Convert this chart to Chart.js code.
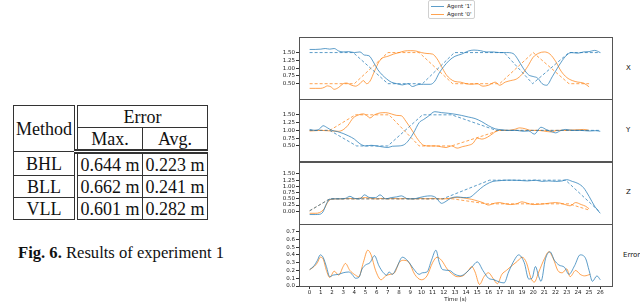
<!DOCTYPE html>
<html>
<head>
<meta charset="utf-8">
<script src="https://cdn.jsdelivr.net/npm/chart.js"></script>
<style>
    html, body { margin: 0; padding: 0; background: #fff; }
    #page { position: relative; width: 640px; height: 303px; overflow: hidden; }

    #results {
        position: absolute; left: 13px; top: 105px;
        border-collapse: collapse;
        font-family: "Liberation Serif", "Times New Roman", serif;
        font-size: 18px; color: #111;
    }
    #results th, #results td {
        border: 1px solid #333; padding: 0 1px; font-weight: normal;
        text-align: center; line-height: 20px; height: 21px; white-space: nowrap;
    }
    #results .m { border-right: 4px double #333; width: 58px; }
    #results .num { width: 62px; }
    #results tr.sub th { border-bottom: 5px double #333; }

    #caption {
        position: absolute; left: 18px; top: 243px;
        font-family: "Liberation Serif", "Times New Roman", serif;
        font-size: 16.6px; color: #111; white-space: nowrap;
    }

    .side {
        position: absolute; font-family: "DejaVu Sans", sans-serif;
        font-size: 7px; color: #111; line-height: 8px;
    }

    #legend {
        position: absolute; left: 428px; top: 0; width: 45px; height: 17px;
        border: 1px solid #d0d0d0; border-radius: 2px; background: #fff;
        font-family: "DejaVu Sans", sans-serif; font-size: 5.5px; color: #222;
    }
    #legend .item { position: absolute; left: 2px; height: 7px; line-height: 7px; white-space: nowrap; }
    #legend .swatch { position: absolute; left: 0; top: 3px; width: 13px; height: 1.5px; }
    #legend .text { position: absolute; left: 16px; top: 0; }

    #chartBox { position: absolute; left: 262px; top: 0; width: 378px; height: 303px; }
</style>
</head>
<body>
<div id="page">

    <table id="results">
        <tr><th class="m" rowspan="2">Method</th><th colspan="2">Error</th></tr>
        <tr class="sub"><th class="num">Max.</th><th class="num">Avg.</th></tr>
        <tr><td class="m">BHL</td><td>0.644 m</td><td>0.223 m</td></tr>
        <tr><td class="m">BLL</td><td>0.662 m</td><td>0.241 m</td></tr>
        <tr><td class="m">VLL</td><td>0.601 m</td><td>0.282 m</td></tr>
    </table>

    <div id="caption"><b>Fig. 6.</b> Results of experiment 1</div>

    <div class="side" style="left:626px; top:64px;">X</div>
    <div class="side" style="left:626px; top:126px;">Y</div>
    <div class="side" style="left:626px; top:188px;">Z</div>
    <div class="side" style="left:623px; top:251px;">Error</div>

    <div id="chartBox"><canvas id="experimentChart"></canvas></div>
    <div id="legend"></div>
</div>

<script>
/* ==========================================
   Data, [time (s), value]
========================================== */

const timeTicks = [0, 1, 2, 3, 4, 5, 6, 7, 8, 9, 10, 11, 12, 13, 14, 15, 16, 17, 18, 19, 20, 21, 22, 23, 24, 25, 26];
const posTicks = [0.5, 0.75, 1.0, 1.25, 1.5];
const zTicks = [0, 0.25, 0.5, 0.75, 1.0, 1.25, 1.5];
const errorTicks = [0, 0.1, 0.2, 0.3, 0.4, 0.5, 0.6, 0.7];

const xAgent1 = [[0,1.6],[0.5,1.6],[1,1.61],[1.4,1.63],[1.8,1.61],[2.2,1.63],[2.6,1.55],[3,1.52],[3.5,1.53],[4,1.5],[4.5,1.52],[4.9,1.42],[5.3,1.4],[5.7,1.2],[6.1,0.95],[6.5,0.78],[6.9,0.65],[7.3,0.55],[7.8,0.5],[8.3,0.46],[8.8,0.5],[9.2,0.41],[9.7,0.47],[10.2,0.48],[10.8,0.48],[11.2,0.58],[11.6,0.85],[12,1.05],[12.5,1.25],[13,1.38],[13.6,1.45],[14.2,1.55],[14.7,1.58],[15.3,1.56],[15.8,1.52],[16.4,1.52],[17,1.5],[17.6,1.5],[18.2,1.47],[18.6,1.3],[19.1,1.0],[19.6,0.78],[20,0.73],[20.4,0.68],[20.8,0.5],[21.2,0.45],[21.7,0.72],[22.3,1.08],[22.9,1.38],[23.4,1.5],[24,1.48],[24.5,1.52],[25,1.53],[25.5,1.57],[26,1.5]];
const xAgent1Ref = [[0,1.5],[3.9,1.5],[7,0.5],[10.1,0.5],[12.95,1.5],[17.4,1.5],[19.95,0.5],[23.2,1.5],[26,1.5]];
const xAgent0 = [[0,0.35],[0.5,0.35],[1,0.35],[1.3,0.38],[1.6,0.43],[1.9,0.4],[2.2,0.32],[2.6,0.38],[3,0.5],[3.3,0.52],[3.7,0.46],[4.1,0.42],[4.5,0.5],[4.8,0.6],[5.1,0.5],[5.4,0.58],[5.8,0.9],[6.2,1.2],[6.5,1.32],[7,1.38],[7.5,1.45],[8,1.5],[8.5,1.55],[9,1.56],[9.5,1.55],[10,1.5],[10.5,1.47],[11,1.45],[11.4,1.3],[11.8,1.05],[12.2,0.8],[12.6,0.65],[13,0.57],[13.5,0.55],[14,0.5],[14.5,0.48],[15,0.5],[15.5,0.42],[16,0.45],[16.6,0.55],[17,0.45],[17.5,0.55],[18,0.6],[18.5,0.65],[19,0.8],[19.5,1.05],[20,1.35],[20.5,1.48],[21,1.52],[21.5,1.45],[22,1.22],[22.5,0.9],[23,0.7],[23.5,0.6],[24,0.55],[24.5,0.52],[25,0.4]];
const xAgent0Ref = [[0,0.5],[4,0.5],[7,1.5],[9.8,1.5],[12.8,0.5],[17,0.5],[20,1.5],[23.2,0.5],[25,0.5]];

const yAgent1 = [[0,1.03],[0.5,1.0],[0.9,1.05],[1.2,1.15],[1.6,1.08],[2,1.0],[2.5,0.96],[3,0.9],[3.5,0.82],[4,0.72],[4.5,0.57],[5,0.5],[5.5,0.52],[6,0.5],[6.5,0.47],[7,0.45],[7.4,0.49],[8,0.5],[8.5,0.55],[8.9,0.7],[9.3,0.92],[9.8,1.25],[10.2,1.35],[10.6,1.45],[11.2,1.6],[11.8,1.57],[12.4,1.55],[13,1.52],[13.6,1.48],[14.2,1.43],[14.8,1.38],[15.4,1.28],[16,1.15],[16.6,1.05],[17.2,1.02],[17.8,1.0],[18.5,1.0],[19.1,0.97],[19.6,0.98],[20.1,0.88],[20.7,1.1],[21.2,1.02],[21.7,0.95],[22,0.92],[22.5,1.0],[22.9,1.03],[23.5,1.0],[24.2,1.0],[25,0.98],[25.6,0.99],[26,0.97]];
const yAgent1Ref = [[0,1.0],[1.8,1.0],[4.2,0.5],[7,0.5],[10.1,1.5],[12.7,1.5],[16.7,1.0],[26,1.0]];
const yAgent0 = [[0,0.98],[0.5,0.99],[1,1.0],[1.5,0.99],[2,0.98],[2.6,0.97],[3,1.02],[3.4,1.15],[3.9,1.4],[4.4,1.5],[4.8,1.53],[5.1,1.48],[5.4,1.4],[5.8,1.5],[6.3,1.56],[6.8,1.57],[7.3,1.53],[7.8,1.48],[8.2,1.47],[8.6,1.3],[9.2,0.98],[9.7,0.7],[10.2,0.52],[10.7,0.5],[11.3,0.5],[11.8,0.47],[12.2,0.45],[12.7,0.5],[13.2,0.43],[13.7,0.48],[14.2,0.52],[14.6,0.58],[15,0.75],[15.4,0.72],[15.9,0.78],[16.4,0.9],[16.8,1.0],[17.3,1.0],[17.8,1.0],[18.3,1.03],[18.8,1.08],[19.3,1.05],[19.8,1.0],[20.4,1.0],[20.9,0.98],[21.6,0.95],[22.2,1.0],[22.8,1.0],[23.4,1.01],[24,1.02],[24.5,1.03],[25,1.0]];
const yAgent0Ref = [[0,1.0],[1.8,1.0],[4.1,1.5],[7.1,1.5],[9.8,0.5],[12.7,0.5],[17,1.0],[25,1.0]];

const zAgent1 = [[0,-0.13],[0.5,-0.13],[0.9,-0.12],[1.2,-0.02],[1.5,0.3],[1.8,0.48],[2.2,0.5],[2.7,0.5],[3.2,0.52],[3.6,0.6],[4,0.52],[4.5,0.5],[4.9,0.66],[5.4,0.55],[5.9,0.55],[6.3,0.66],[6.8,0.5],[7.3,0.55],[7.8,0.58],[8.2,0.62],[8.8,0.5],[9.3,0.5],[9.8,0.55],[10.3,0.6],[10.8,0.62],[11.3,0.55],[11.8,0.32],[12.2,0.4],[12.6,0.52],[13.2,0.58],[13.8,0.55],[14.3,0.56],[14.8,0.72],[15.3,0.92],[15.8,1.08],[16.4,1.2],[17,1.23],[17.6,1.25],[18.2,1.25],[18.8,1.24],[19.5,1.22],[20.2,1.25],[20.8,1.2],[21.4,1.22],[22,1.2],[22.6,1.22],[23,1.27],[23.5,1.2],[24,1.12],[24.5,0.95],[25,0.6],[25.5,0.2],[26,-0.08]];
const zAgent1Ref = [[0,0.02],[1.8,0.5],[11.9,0.5],[16.1,1.25],[22.9,1.25],[25.9,0.0]];
const zAgent0 = [[0,-0.08],[0.5,-0.08],[0.9,-0.05],[1.3,0.1],[1.6,0.35],[1.9,0.48],[2.5,0.5],[3,0.5],[3.5,0.52],[4,0.5],[4.5,0.53],[5,0.55],[5.5,0.52],[6,0.5],[6.5,0.52],[7,0.5],[7.5,0.52],[8,0.5],[8.5,0.52],[9,0.5],[9.5,0.5],[10,0.52],[10.5,0.5],[11,0.52],[11.5,0.5],[12,0.5],[12.5,0.52],[13,0.55],[13.5,0.55],[14,0.52],[14.5,0.48],[15,0.42],[15.5,0.35],[16,0.25],[16.5,0.32],[17,0.35],[17.5,0.3],[18,0.27],[18.5,0.3],[19,0.38],[19.5,0.32],[20,0.27],[20.5,0.28],[21,0.3],[21.5,0.33],[22,0.35],[22.5,0.32],[23,0.25],[23.3,0.22],[23.8,0.35],[24.3,0.27],[24.7,0.2],[25,0.1]];
const zAgent0Ref = [[0,0.02],[1.8,0.5],[12.8,0.5],[15.8,0.3],[23.2,0.3],[25,0.05]];

const errorAgent1 = [[0,0.21],[0.4,0.26],[0.7,0.33],[0.95,0.4],[1.2,0.37],[1.5,0.25],[1.8,0.12],[2.1,0.14],[2.6,0.15],[3,0.17],[3.5,0.18],[3.8,0.15],[4.1,0.1],[4.4,0.11],[4.7,0.22],[5,0.27],[5.4,0.3],[5.8,0.39],[6.2,0.26],[6.6,0.17],[6.9,0.14],[7.1,0.18],[7.4,0.15],[7.8,0.24],[8.3,0.37],[8.8,0.32],[9.3,0.22],[9.8,0.15],[10.1,0.17],[10.5,0.18],[10.9,0.33],[11.3,0.46],[11.6,0.3],[11.9,0.21],[12.5,0.2],[13,0.15],[13.5,0.13],[14,0.17],[14.5,0.24],[15,0.31],[15.5,0.2],[16,0.1],[16.5,0.08],[17,0.05],[17.4,0.04],[17.8,0.18],[18.3,0.33],[18.7,0.4],[19.2,0.3],[19.6,0.09],[19.9,0.1],[20.2,0.25],[20.5,0.12],[20.7,0.06],[21.1,0.35],[21.5,0.44],[21.9,0.33],[22.3,0.27],[22.8,0.24],[23.2,0.15],[23.7,0.26],[24.2,0.4],[24.7,0.35],[25,0.2],[25.3,0.06],[25.7,0.13],[26,0.08]];
const errorAgent0 = [[0,0.21],[0.4,0.25],[0.7,0.3],[0.95,0.37],[1.2,0.35],[1.5,0.2],[1.8,0.11],[2.2,0.19],[2.6,0.14],[3,0.25],[3.2,0.29],[3.6,0.2],[4,0.15],[4.4,0.12],[4.8,0.3],[5.2,0.46],[5.5,0.4],[5.9,0.2],[6.4,0.08],[6.8,0.13],[7.2,0.15],[7.6,0.17],[8,0.3],[8.4,0.33],[8.9,0.3],[9.4,0.15],[10,0.08],[10.5,0.13],[11,0.3],[11.4,0.37],[11.8,0.33],[12.3,0.22],[12.8,0.15],[13.2,0.12],[13.7,0.13],[14.2,0.2],[14.5,0.25],[14.8,0.18],[15.2,0.02],[15.6,0.12],[16,0.17],[16.4,0.1],[16.8,0.03],[17.2,0.15],[17.6,0.2],[18,0.25],[18.6,0.32],[19,0.37],[19.4,0.3],[19.8,0.1],[20.1,0.05],[20.5,0.18],[21,0.35],[21.4,0.44],[21.8,0.35],[22.2,0.2],[22.6,0.17],[23,0.22],[23.3,0.12],[23.8,0.2],[24.2,0.15],[24.6,0.13],[25.1,0.15]];

const BLUE = 'rgba(31,119,180,0.72)';
const ORANGE = 'rgba(255,127,14,0.72)';

document.addEventListener('DOMContentLoaded', function () {

    Chart.defaults.font.family = '"DejaVu Sans", sans-serif';
    Chart.defaults.color = '#222';

    function series(data, color, axisId, dashed, label) {
        return {
            label: label || '',
            data: data,
            xAxisID: 'x',
            yAxisID: axisId,
            borderColor: color,
            backgroundColor: color,
            borderWidth: 1,
            borderDash: dashed ? [3, 2] : [],
            pointRadius: 0,
            tension: 0,
            cubicInterpolationMode: dashed ? 'default' : 'monotone'
        };
    }

    function fixedTicks(values) {
        return function (scale) {
            scale.ticks = values.map(function (v) { return { value: v }; });
        };
    }

    function subplotAxis(min, max, ticks, weight, digits) {
        return {
            type: 'linear',
            position: 'left',
            stack: 'panels',
            stackWeight: 1,
            weight: weight,
            min: min,
            max: max,
            afterBuildTicks: fixedTicks(ticks),
            afterFit: function (scale) { scale.width = 37; },
            border: { display: true, color: '#555' },
            grid: { drawOnChartArea: false, tickLength: 3, color: '#333' },
            ticks: {
                autoSkip: false,
                padding: 1,
                font: { size: 5.5 },
                callback: function (value) { return Number(value).toFixed(digits); }
            }
        };
    }

    // full frame around each stacked panel, like matplotlib spines
    const panelFrames = {
        id: 'panelFrames',
        afterDatasetsDraw: function (chart) {
            const ctx = chart.ctx;
            const area = chart.chartArea;
            ctx.save();
            ctx.strokeStyle = '#555';
            ctx.lineWidth = 1;
            Object.values(chart.scales).forEach(function (scale) {
                if (scale.axis !== 'y') {
                    return;
                }
                ctx.strokeRect(
                    Math.round(area.left) + 0.5,
                    Math.round(scale.top) + 0.5,
                    Math.round(area.right - area.left),
                    Math.round(scale.bottom - scale.top)
                );
            });
            ctx.restore();
        }
    };

    const chart = new Chart(document.getElementById('experimentChart'), {
        type: 'line',
        data: {
            datasets: [
                series(xAgent1, BLUE, 'yX', false, "Agent '1'"),
                series(xAgent1Ref, BLUE, 'yX', true),
                series(xAgent0, ORANGE, 'yX', false, "Agent '0'"),
                series(xAgent0Ref, ORANGE, 'yX', true),
                series(yAgent1, BLUE, 'yY', false),
                series(yAgent1Ref, BLUE, 'yY', true),
                series(yAgent0, ORANGE, 'yY', false),
                series(yAgent0Ref, ORANGE, 'yY', true),
                series(zAgent1, BLUE, 'yZ', false),
                series(zAgent1Ref, BLUE, 'yZ', true),
                series(zAgent0, ORANGE, 'yZ', false),
                series(zAgent0Ref, ORANGE, 'yZ', true),
                series(errorAgent1, BLUE, 'yE', false),
                series(errorAgent0, ORANGE, 'yE', false)
            ]
        },
        options: {
            responsive: true,
            maintainAspectRatio: false,
            animation: false,
            layout: { padding: { top: 37, right: 28, bottom: 0, left: 0 } },
            plugins: {
                legend: { display: false },
                tooltip: { enabled: false }
            },
            scales: {
                x: {
                    type: 'linear',
                    position: 'bottom',
                    min: -0.95,
                    max: 27.05,
                    afterBuildTicks: fixedTicks(timeTicks),
                    afterFit: function (scale) { scale.height = 17; },
                    border: { display: true, color: '#555' },
                    grid: { drawOnChartArea: false, tickLength: 3, color: '#333' },
                    ticks: { autoSkip: false, maxRotation: 0, padding: 0, font: { size: 5.5 } },
                    title: { display: true, text: 'Time (s)', padding: 0, font: { size: 5.5 } }
                },
                yX: subplotAxis(0, 2, posTicks, 4, 2),
                yY: subplotAxis(0, 2, posTicks, 3, 2),
                yZ: subplotAxis(-0.5, 2, zTicks, 2, 2),
                yE: subplotAxis(0, 0.8, errorTicks, 1, 1)
            }
        },
        plugins: [panelFrames]
    });

    /* ==========================================
       Two-row legend from the labelled datasets
    ========================================== */

    const legend = document.getElementById('legend');

    chart.data.datasets
        .filter(function (dataset) { return dataset.label; })
        .forEach(function (dataset, index) {
            const item = document.createElement('div');
            item.className = 'item';
            item.style.top = (1.5 + index * 8.3) + 'px';

            const swatch = document.createElement('span');
            swatch.className = 'swatch';
            swatch.style.background = dataset.borderColor;

            const text = document.createElement('span');
            text.className = 'text';
            text.textContent = dataset.label;

            item.appendChild(swatch);
            item.appendChild(text);
            legend.appendChild(item);
        });

});
</script>
</body>
</html>
